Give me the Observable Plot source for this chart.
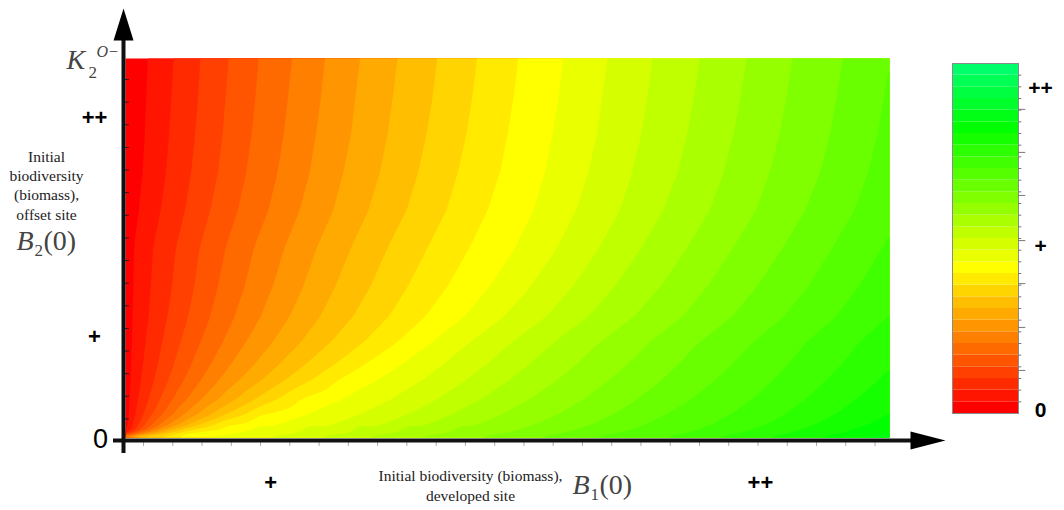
<!DOCTYPE html>
<html><head><meta charset="utf-8">
<script src="https://cdn.jsdelivr.net/npm/d3@7"></script>
<script src="https://cdn.jsdelivr.net/npm/@observablehq/plot@0.6"></script>
<style>
html,body{margin:0;padding:0;background:#fff;}
#wrap{position:relative;width:1064px;height:510px;overflow:hidden;background:#fff;}
#wrap svg{position:absolute;top:0;left:0;}
</style></head><body><div id="wrap"></div>
<script>
// Heights of the rows that were read (B2(0) as a fraction of K2, 0 .. 1)
const b2Levels = [1, 0.9, 0.8, 0.7, 0.6, 0.5, 0.4, 0.32, 0.25, 0.19, 0.15, 0.1, 0.06, 0.03, 0.01, 0];
// For each height: B1(0) position (fraction of axis) where colour band k begins (k = 1, 2, ...)
const bandEdges = [
  [.029,.063,.098,.135,.174,.218,.261,.307,.356,.408,.460,.514,.573,.631,.690,.752,.813,.873,.939,1.0,1.06],
  [.027,.060,.095,.131,.170,.213,.256,.301,.350,.402,.454,.508,.567,.624,.683,.744,.805,.865,.931,.993,1.053],
  [.025,.057,.091,.127,.165,.207,.249,.295,.343,.394,.446,.500,.559,.617,.675,.735,.796,.856,.922,.984,1.045],
  [.022,.053,.086,.121,.158,.199,.241,.285,.333,.383,.435,.490,.549,.606,.663,.723,.783,.843,.909,.972,1.033],
  [.017,.046,.078,.111,.147,.187,.228,.272,.318,.368,.420,.474,.534,.590,.647,.704,.765,.825,.890,.954,1.017],
  [.010,.036,.066,.097,.131,.168,.208,.250,.295,.343,.395,.450,.510,.565,.620,.675,.735,.795,.860,.925,.990,1.055],
  [.009,.033,.061,.090,.121,.156,.193,.233,.275,.321,.370,.422,.477,.531,.586,.641,.701,.762,.827,.894,.960,1.027],
  [.008,.030,.055,.082,.111,.143,.177,.215,.255,.298,.345,.393,.444,.496,.551,.606,.666,.729,.794,.862,.930,.998,1.065],
  [.007,.026,.048,.072,.098,.127,.157,.192,.229,.268,.311,.355,.400,.450,.505,.560,.620,.685,.750,.820,.890,.960,1.03],
  [.0061,.0227,.0419,.0628,.0855,.1107,.1369,.1674,.1997,.2337,.272,.311,.359,.414,.471,.527,.588,.655,.722,.792,.866,.936,1.004,1.074],
  [.0054,.0202,.0372,.0558,.076,.0984,.1217,.1488,.1775,.2077,.242,.277,.328,.387,.445,.502,.564,.632,.701,.771,.847,.917,.985,1.055],
  [.0044,.0164,.0303,.0455,.0619,.0803,.0992,.1213,.1447,.1694,.198,.228,.282,.347,.408,.464,.528,.599,.669,.739,.820,.890,.956,1.026],
  [.0034,.0127,.0235,.0353,.048,.0622,.0769,.0941,.1122,.1313,.155,.179,.237,.307,.370,.427,.4925,.565,.638,.708,.793,.863,.928,.998,1.063],
  [.0024,.009,.0166,.0249,.0339,.0439,.0543,.0664,.0792,.0927,.111,.129,.191,.267,.332,.390,.457,.531,.606,.676,.766,.836,.899,.969,1.033],
  [.0014,.0052,.0096,.0144,.0196,.0254,.0314,.0384,.0458,.0536,.066,.079,.144,.226,.293,.352,.420,.497,.574,.644,.738,.808,.870,.940,1.002,1.064],
  [null,null,null,null,null,null,null,null,null,null,.005,.01,.08,.17,.24,.30,.37,.45,.53,.60,.70,.77,.83,.90,.96,1.02]
];
const leftEdgeValue = 0;      // outcome along the B1(0) = 0 edge (red)
const cornerValue = 0.34;     // outcome at the origin
// Tick labels
const b1TickPos = [0.19, 0.831];
const b1TickLabels = ["+", "++"];
const b2TickPos = [0.264, 0.844];
const b2TickLabels = ["+", "++"];
const barTickPos = [0.009, 0.477, 0.929];
const barTickLabels = ["0", "+", "++"];
const nBands = 30;

// samples for the contour mark
const samples = [];
b2Levels.forEach((b2, i) => {
  samples.push(b2 > 0 ? {b1: 0, b2, v: leftEdgeValue} : {b1: 0, b2, v: cornerValue});
  bandEdges[i].forEach((b1, k) => { if (b1 != null) samples.push({b1, b2, v: (k + 1) / nBands}); });
});
const thresholds = d3.range(nBands + 1).map(k => k / nBands - 1e-9);
const hue = t => d3.hsl(150 * Math.max(0, Math.min(1, t)), 1, 0.5).formatHex();

// pixel helpers for annotation placement (frame: x 125..889, y 437..58)
const X = px => (px - 125) / 764;
const Y = py => (437 - py) / 379;

const head = {draw(ctx, l, r) { ctx.moveTo(-r, 0); ctx.lineTo(0, -l); ctx.lineTo(r, 0); ctx.closePath(); }};
const serif = "Liberation Serif, Times New Roman, serif";
const sans = "Liberation Sans, Arial, sans-serif";

const main = Plot.plot({
  width: 1064, height: 510,
  marginLeft: 125, marginRight: 175, marginTop: 58, marginBottom: 73,
  x: {domain: [0, 1], axis: null},
  y: {domain: [0, 1], axis: null},
  color: {type: "linear", domain: [0, 1], interpolate: hue},
  style: {background: "white", overflow: "visible"},
  marks: [
    Plot.contour(samples, {x: "b1", y: "b2", fill: "v", x1: 0, y1: 0, x2: 1, y2: 1,
      interpolate: "barycentric", thresholds, pixelSize: 1, blur: 2}),
    // minor ticks
    Plot.ruleY(d3.range(16).map(n => 0.049 + 0.0597 * n), {x1: X(124), x2: X(129), stroke: "#222", strokeWidth: 1}),
    Plot.ruleX(d3.range(26).map(n => 0.0236 + 0.0383 * n), {y1: Y(442), y2: Y(446), stroke: "#aaa", strokeWidth: 1}),
    // axes
    Plot.ruleX([X(123)], {y1: Y(453), y2: Y(38), stroke: "#111", strokeWidth: 4}),
    Plot.ruleY([Y(440)], {x1: X(113), x2: X(912), stroke: "#111", strokeWidth: 4}),
    Plot.vector([0], {x: X(123), y: Y(40), length: 32, r: 10, rotate: 0, anchor: "start", shape: head, fill: "#000", stroke: "none"}),
    Plot.vector([0], {x: X(910), y: Y(440), length: 35, r: 9, rotate: 90, anchor: "start", shape: head, fill: "#000", stroke: "none"}),
    // tick labels
    Plot.text(b2TickPos, {x: X(94), y: d => d, text: (d, i) => b2TickLabels[i], fontSize: 22, fontWeight: "bold", fontFamily: sans, fill: "#000"}),
    Plot.text(b1TickPos, {x: d => d, y: Y(482), text: (d, i) => b1TickLabels[i], fontSize: 22, fontWeight: "bold", fontFamily: sans, fill: "#000"}),
    Plot.text(["0"], {x: X(100), y: Y(439), text: d => d, fontSize: 27, fontFamily: sans, fill: "#000"}),
    // K2^{O-}
    Plot.text(["K"], {x: X(66), y: Y(68), text: d => d, textAnchor: "start", lineAnchor: "bottom", fontSize: 28, fontStyle: "italic", fontFamily: serif, fill: "#444"}),
    Plot.text(["2"], {x: X(88), y: Y(77), text: d => d, textAnchor: "start", lineAnchor: "bottom", fontSize: 17, fontFamily: serif, fill: "#444"}),
    Plot.text(["O−"], {x: X(96), y: Y(56), text: d => d, textAnchor: "start", lineAnchor: "bottom", fontSize: 16, fontStyle: "italic", fontFamily: serif, fill: "#444"}),
    // y title
    Plot.text(["Initial\nbiodiversity\n(biomass),\noffset site"], {x: X(46), y: Y(184), text: d => d, lineHeight: 1.25, fontSize: 15.5, fontFamily: serif, fill: "#222"}),
    Plot.text(["B"], {x: X(16), y: Y(249), text: d => d, textAnchor: "start", lineAnchor: "bottom", fontSize: 28, fontStyle: "italic", fontFamily: serif, fill: "#444"}),
    Plot.text(["2"], {x: X(34), y: Y(255), text: d => d, textAnchor: "start", lineAnchor: "bottom", fontSize: 17, fontFamily: serif, fill: "#444"}),
    Plot.text(["(0)"], {x: X(43), y: Y(249), text: d => d, textAnchor: "start", lineAnchor: "bottom", fontSize: 28, fontFamily: serif, fill: "#444"}),
    // x title
    Plot.text(["Initial biodiversity (biomass),\ndeveloped site"], {x: X(470), y: Y(484), text: d => d, lineHeight: 1.3, fontSize: 15.5, fontFamily: serif, fill: "#222"}),
    Plot.text(["B"], {x: X(572), y: Y(493), text: d => d, textAnchor: "start", lineAnchor: "bottom", fontSize: 28, fontStyle: "italic", fontFamily: serif, fill: "#444"}),
    Plot.text(["1"], {x: X(590), y: Y(499), text: d => d, textAnchor: "start", lineAnchor: "bottom", fontSize: 17, fontFamily: serif, fill: "#444"}),
    Plot.text(["(0)"], {x: X(599), y: Y(493), text: d => d, textAnchor: "start", lineAnchor: "bottom", fontSize: 28, fontFamily: serif, fill: "#444"})
  ]
});

const bands = d3.range(nBands).map(k => ({lo: k / nBands, hi: (k + 1) / nBands}));
const bar = Plot.plot({
  width: 1064, height: 510,
  marginLeft: 952, marginRight: 46, marginTop: 63, marginBottom: 97,
  x: {domain: [0, 1], axis: null},
  y: {domain: [0, 1], axis: null},
  color: {type: "linear", domain: [0, 1], interpolate: hue},
  style: {background: "transparent", overflow: "visible"},
  marks: [
    Plot.rect(bands, {x1: 0, x2: 1, y1: "lo", y2: "hi", fill: "lo", inset: 0}),
    Plot.frame({stroke: "#8a8a8a", strokeWidth: 1}),
    Plot.ruleY(d3.range(1, nBands).map(k => k / nBands), {x1: 1, x2: 1.05, stroke: "#777", strokeWidth: 1}),
    Plot.ruleY([0.123, 0.246, 0.371, 0.494, 0.623, 0.746, 0.869], {x1: 1, x2: 1.11, stroke: "#777", strokeWidth: 1}),
    Plot.text(barTickPos, {x: 1, y: d => d, dx: 22, text: (d, i) => barTickLabels[i], fontSize: 21, fontWeight: "bold", fontFamily: sans, fill: "#000"})
  ]
});

document.getElementById("wrap").append(main, bar);
</script>
</body></html>
